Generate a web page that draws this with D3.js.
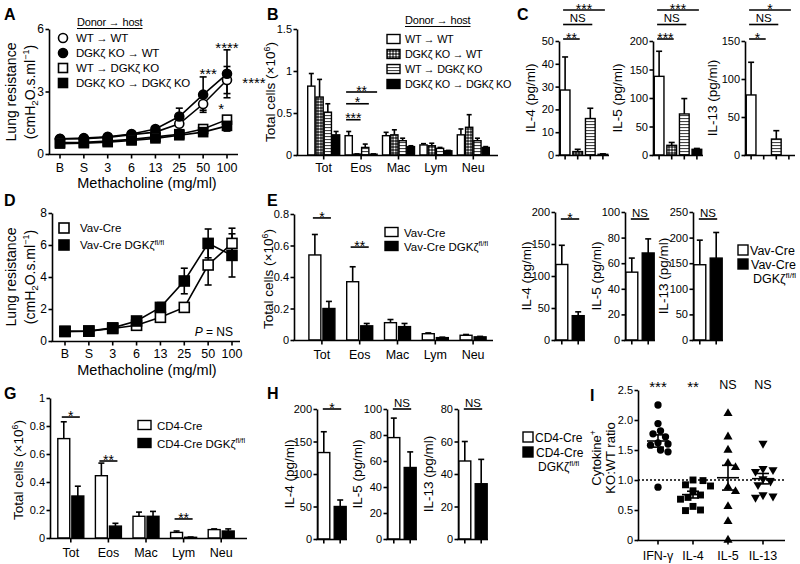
<!DOCTYPE html>
<html><head><meta charset="utf-8">
<script src="https://cdn.jsdelivr.net/npm/d3@7"></script>
<style>body{margin:0;background:#fff}</style>
</head><body>
<script>
// ================= DATA =================
const doses = ["B","S","3","6","13","25","50","100"];
const cellTypes = ["Tot","Eos","Mac","Lym","Neu"];
const donorHost = ["WT \u2192 WT","DGK\u03b6 KO \u2192 WT","WT \u2192 DGK\u03b6 KO","DGK\u03b6 KO \u2192 DGK\u03b6 KO"];

// Panel A: lung resistance (donor -> host)
const aWTtoWT    = [0.72,0.74,0.80,0.93,1.05,1.45,2.40,3.55];
const aWTtoWTErr = [0.03,0.03,0.03,0.04,0.06,0.10,0.30,0.65];
const aKOtoWT    = [0.73,0.76,0.83,0.96,1.20,1.80,2.85,3.85];
const aKOtoWTErr = [0.03,0.03,0.04,0.05,0.08,0.40,0.85,1.15];
const aWTtoKO    = [0.55,0.56,0.62,0.70,0.82,0.95,1.20,1.65];
const aWTtoKOErr = [0.02,0.02,0.03,0.03,0.04,0.05,0.10,0.15];
const aKOtoKO    = [0.50,0.52,0.57,0.65,0.75,0.90,1.05,1.35];
const aKOtoKOErr = [0.02,0.02,0.03,0.03,0.04,0.05,0.08,0.25];
const aStars = [
  {label:"***",  dose:"50",  at:4.0,  side:false},
  {label:"****", dose:"100", at:5.25, side:false},
  {label:"****", dose:"100", at:3.55, side:true},
  {label:"*",    dose:"50",  at:2.3,  side:true}
];

// Panel B: BAL cells (x10^6)
const bWTtoWT    = [0.82,0.23,0.23,0.12,0.24];
const bWTtoWTErr = [0.15,0.05,0.04,0.015,0.07];
const bKOtoWT    = [0.69,0.01,0.24,0.11,0.33];
const bKOtoWTErr = [0.21,0.003,0.06,0.03,0.15];
const bWTtoKO    = [0.51,0.09,0.17,0.08,0.17];
const bWTtoKOErr = [0.10,0.04,0.03,0.01,0.03];
const bKOtoKO    = [0.24,0.01,0.10,0.05,0.09];
const bKOtoKOErr = [0.04,0.003,0.01,0.005,0.01];
const bSig = [
  {group:"Eos", a:0, b:1, label:"***", at:0.42},
  {group:"Eos", a:0, b:2, label:"*",   at:0.61},
  {group:"Eos", a:0, b:3, label:"**",  at:0.75}
];

// Panel C: cytokines (pg/ml), 4 groups
const cIL4 = [28.5,1.5,16,0.3];   const cIL4Err = [14.5,1,4.5,0.2];
const cIL5 = [138,17,72,10];      const cIL5Err = [44,5,27,1.5];
const cIL13 = [79,0,21,0];        const cIL13Err = [43,0,11,0];
const cIL4Sig = ["**","NS","***"];
const cIL5Sig = ["***","NS","***"];
const cIL13Sig = ["*","NS","*"];

// Panel D: lung resistance Vav-Cre
const vavLabels = ["Vav-Cre","Vav-Cre DGK\u03b6"];
const dVav      = [0.60,0.62,0.78,0.98,1.48,2.10,4.75,6.10];
const dVavErr   = [0.05,0.05,0.06,0.08,0.15,0.20,1.25,0.95];
const dVavKO    = [0.60,0.62,0.82,1.25,2.10,3.75,6.10,5.35];
const dVavKOErr = [0.05,0.05,0.08,0.10,0.30,0.80,0.90,1.35];

// Panel E: BAL cells Vav-Cre
const eVav      = [0.54,0.37,0.11,0.04,0.03];
const eVavErr   = [0.13,0.095,0.02,0.005,0.005];
const eVavKO    = [0.20,0.09,0.085,0.015,0.02];
const eVavKOErr = [0.045,0.015,0.02,0.003,0.003];
const eSig = [{group:"Tot", label:"*", at:0.775},{group:"Eos", label:"**", at:0.59}];

// Panel F: cytokines Vav-Cre
const fIL4 = [118,38];  const fIL4Err = [30,6];
const fIL5 = [53,68];   const fIL5Err = [11,11];
const fIL13 = [147,160];const fIL13Err = [48,50];
const fSig = ["*","NS","NS"];

// Panel G: BAL cells CD4-Cre
const cd4Labels = ["CD4-Cre","CD4-Cre DGK\u03b6"];
const gCD4      = [0.71,0.445,0.155,0.04,0.06];
const gCD4Err   = [0.12,0.09,0.03,0.01,0.005];
const gCD4KO    = [0.30,0.085,0.155,0.005,0.05];
const gCD4KOErr = [0.07,0.02,0.035,0.002,0.015];
const gSig = [{group:"Tot",label:"*",at:0.864},{group:"Eos",label:"**",at:0.55},{group:"Lym",label:"**",at:0.136}];

// Panel H: cytokines CD4-Cre
const hIL4 = [133,50]; const hIL4Err = [32,10];
const hIL5 = [78,55];  const hIL5Err = [15,12];
const hIL13 = [48,34]; const hIL13Err = [12,15];
const hSig = ["*","NS","NS"];

// Panel I: cytokine+ KO:WT ratio
const iCats = ["IFN-\u03b3","IL-4","IL-5","IL-13"];
const iIFNg = [2.25,1.94,1.82,1.77,1.72,1.62,1.60,1.58,1.50,1.47,0.88];
const iIL4  = [1.00,0.99,0.92,0.90,0.82,0.75,0.71,0.68,0.56,0.50,0.49];
const iIL5  = [2.11,1.72,1.50,1.28,1.21,0.88,0.81,0.56,0.31,0.00];
const iIL13 = [1.61,1.19,1.17,1.14,1.02,0.98,0.92,0.75,0.73,0.71];
const iSig  = ["***","**","NS","NS"];

// ================= DRAWING =================
const FONT = "'Liberation Sans', Arial, Helvetica, sans-serif";
const TICK_FS = 11;
const TITLE_FS = 13.5;
const svg = d3.select("body").append("svg").attr("width",800).attr("height",564)
  .style("font-family",FONT);
svg.append("rect").attr("width",800).attr("height",564).attr("fill","#fff");
const defs = svg.append("defs");
const pc = defs.append("pattern").attr("id","checker").attr("patternUnits","userSpaceOnUse").attr("width",3).attr("height",3);
pc.append("rect").attr("width",3).attr("height",3).attr("fill","#222");
pc.append("circle").attr("cx",1.5).attr("cy",1.5).attr("r",1.05).attr("fill","#fff");
const ps = defs.append("pattern").attr("id","stripes").attr("patternUnits","userSpaceOnUse").attr("width",4).attr("height",3);
ps.append("rect").attr("width",4).attr("height",3).attr("fill","#fff");
ps.append("rect").attr("y",1).attr("width",4).attr("height",1.1).attr("fill","#444");
const fills4 = ["#fff","url(#checker)","url(#stripes)","#000"];
const fills2 = ["#fff","#000"];
const SW = 1.6;

function rich(sel, parts, fs){
  let shift = 0;
  parts.forEach(p=>{
    const t = (typeof p === "string") ? {t:p} : p;
    let target = 0, size = fs;
    if (t.sup){ target = -fs*0.38; size = fs*0.65; }
    if (t.sub){ target = fs*0.22; size = fs*0.7; }
    sel.append("tspan").attr("dy", target-shift).attr("font-size", size).text(t.t);
    shift = target;
  });
}
function txt(x, y, parts, o={}){
  const fs = o.fs || 12;
  const t = svg.append("text").attr("font-size",fs).attr("fill","#000")
    .attr("text-anchor",o.anchor||"start");
  if (o.bold) t.attr("font-weight","bold");
  if (o.ls) t.attr("letter-spacing",o.ls);
  if (o.rot) t.attr("transform",`translate(${x},${y}) rotate(-90)`);
  else t.attr("x",x).attr("y",y);
  if (typeof parts === "string") t.text(parts); else rich(t, parts, fs);
  return t;
}
function line(x1,y1,x2,y2,o={}){
  const l = svg.append("line").attr("x1",x1).attr("y1",y1).attr("x2",x2).attr("y2",y2)
    .attr("stroke","#000").attr("stroke-width",o.w||SW);
  if (o.dash) l.attr("stroke-dasharray",o.dash);
  return l;
}
function yAxis(y, x, ticks, fmt, fs=TICK_FS){
  const g = svg.append("g").attr("transform",`translate(${x},0)`)
    .call(d3.axisLeft(y).tickValues(ticks).tickFormat(fmt||(d=>d)).tickSize(3.5).tickSizeOuter(0).tickPadding(1.5));
  g.attr("font-family",FONT).attr("font-size",fs);
  g.select(".domain").attr("stroke","#000").attr("stroke-width",SW);
  g.selectAll(".tick line").attr("stroke","#000").attr("stroke-width",SW);
  g.selectAll(".tick text").attr("fill","#000");
}
function xAxis(x0, x1, y0, ticks, labels, ly, fs=12.5){
  line(x0-0.8, y0, x1, y0);
  ticks.forEach((t,i)=>{
    line(t, y0, t, y0+4);
    if (labels) txt(t, ly, labels[i], {fs, anchor:"middle"});
  });
}
function marker(shape, cx, cy, size, fill){
  if (shape === "circle")
    svg.append("circle").attr("cx",cx).attr("cy",cy).attr("r",size/2).attr("fill",fill).attr("stroke","#000").attr("stroke-width",SW);
  else
    svg.append("rect").attr("x",cx-size/2).attr("y",cy-size/2).attr("width",size).attr("height",size).attr("fill",fill).attr("stroke","#000").attr("stroke-width",SW);
}
function errBar(cx, y1, y2, cap=6){
  line(cx, y1, cx, y2);
  line(cx-cap/2, y2, cx+cap/2, y2);
}
function sig(x1, x2, ly, label){
  line(x1, ly, x2, ly);
  const star = label.indexOf("*") >= 0;
  txt((x1+x2)/2, star ? ly+3.6 : ly-2.5, label, {fs: star?14:11.5, anchor:"middle"});
}
function panelLabel(x, y, s){ txt(x, y, s, {fs:16, bold:true}); }

function lineChart(x, y, series, msize){
  series.forEach(s=>{
    s.v.forEach((v,i)=>{
      const cx = x(doses[i]);
      line(cx, y(v-s.e[i]), cx, y(v+s.e[i]));
      line(cx-3.5, y(v+s.e[i]), cx+3.5, y(v+s.e[i]));
      line(cx-3.5, y(v-s.e[i]), cx+3.5, y(v-s.e[i]));
    });
  });
  series.forEach(s=>{
    svg.append("path").datum(s.v)
      .attr("d", d3.line().x((d,i)=>x(doses[i])).y(d=>y(d)))
      .attr("fill","none").attr("stroke","#000").attr("stroke-width",SW);
  });
  series.forEach(s=>{
    s.v.forEach((v,i)=> marker(s.shape, x(doses[i]), y(v), msize, s.fill));
  });
}
const lungTitle1 = "Lung resistance";
const lungTitle2 = ["(cmH",{t:"2",sub:true},"O.s.ml",{t:"\u22121",sup:true},")"];
const totalTitle = ["Total cells (\u00d710",{t:"6",sup:true},")"];

// ---------- Panel A ----------
(function(){
  const x = d3.scalePoint().domain(doses).range([60,227]);
  const y = d3.scaleLinear().domain([0,6]).range([154,29]);
  const series = [
    {v:aWTtoWT, e:aWTtoWTErr, shape:"circle", fill:"#fff"},
    {v:aKOtoWT, e:aKOtoWTErr, shape:"circle", fill:"#000"},
    {v:aWTtoKO, e:aWTtoKOErr, shape:"square", fill:"#fff"},
    {v:aKOtoKO, e:aKOtoKOErr, shape:"square", fill:"#000"}
  ];
  lineChart(x, y, series, 9);
  yAxis(y, 49, [0,3,6], null, 12);
  xAxis(49, 238, y(0)+0.5, doses.map(d=>x(d)), doses, 172);
  txt(147, 188, "Methacholine (mg/ml)", {fs:14.5, anchor:"middle"});
  txt(16, 92, lungTitle1, {fs:14, anchor:"middle", rot:true});
  txt(34.5, 92, lungTitle2, {fs:14, anchor:"middle", rot:true});
  aStars.forEach(s=>{
    const cx = s.side ? x(s.dose) + (s.label.length>2 ? 27 : 18) : x(s.dose) + (s.dose==="50"?5:0);
    txt(cx, y(s.at)+8, s.label, {fs:15, anchor:"middle"});
  });
  // legend
  const hd = txt(77, 26, "Donor \u2192 host", {fs:11, ls:-0.2});
  const w = hd.node().getComputedTextLength();
  line(77, 28.5, 77+w, 28.5, {w:1});
  series.forEach((s,i)=>{
    marker(s.shape, 63, 38+i*15, 9, s.fill);
    txt(76, 42+i*15, donorHost[i], {fs:11.5, ls:-0.2});
  });
  panelLabel(4, 20, "A");
})();

// ---------- Panel B ----------
(function(){
  const x = d3.scaleBand().domain(cellTypes).range([305,492]);
  const sub = d3.scaleBand().domain([0,1,2,3]).range([-16,16]).paddingInner(0.125);
  const y = d3.scaleLinear().domain([0,1.5]).range([155,29]);
  const vals = [bWTtoWT,bKOtoWT,bWTtoKO,bKOtoKO];
  const errs = [bWTtoWTErr,bKOtoWTErr,bWTtoKOErr,bKOtoKOErr];
  const cx = c => x(c) + x.bandwidth()/2;
  vals.forEach((vs,k)=>{
    vs.forEach((v,i)=>{
      const bx = cx(cellTypes[i]) + sub(k);
      errBar(bx+sub.bandwidth()/2, y(v), y(v+errs[k][i]), 5);
      svg.append("rect").attr("x",bx).attr("y",y(v)).attr("width",sub.bandwidth()).attr("height",y(0)-y(v))
        .attr("fill",fills4[k]).attr("stroke","#000").attr("stroke-width",1.4);
    });
  });
  yAxis(y, 297, [0,0.5,1,1.5]);
  xAxis(297, 498, y(0)+0.5, cellTypes.map(cx), cellTypes, 172);
  txt(275, 92, totalTitle, {fs:TITLE_FS, anchor:"middle", rot:true});
  bSig.forEach(s=>{
    const c = cx(s.group);
    sig(c+sub(s.a)+1, c+sub(s.b)+sub.bandwidth(), y(s.at), s.label);
  });
  const hd = txt(405, 24, "Donor \u2192 host", {fs:11, ls:-0.2});
  const w = hd.node().getComputedTextLength();
  line(405, 26.5, 405+w, 26.5, {w:1});
  donorHost.forEach((n,i)=>{
    svg.append("rect").attr("x",387).attr("y",34.5+i*15).attr("width",13).attr("height",9)
      .attr("fill",fills4[i]).attr("stroke","#000").attr("stroke-width",1.4);
    txt(405, 43+i*15, n, {fs:10.8, ls:-0.25});
  });
  panelLabel(267, 20, "B");
})();

// ---------- cytokine sub-panels ----------
function cytoPanel(o){
  const y = d3.scaleLinear().domain([0,o.max]).range([o.y0,o.y1]);
  const n = o.vals.length;
  const x = d3.scaleBand().domain(d3.range(n)).range([o.ax, o.ax + o.width]).paddingInner(o.pin).paddingOuter(o.pout);
  const cx = i => x(i) + x.bandwidth()/2;
  o.vals.forEach((v,i)=>{
    if (o.errs[i] > 0) errBar(cx(i), y(v), y(v+o.errs[i]), 6);
    svg.append("rect").attr("x",x(i)).attr("y",y(v)).attr("width",x.bandwidth()).attr("height",Math.max(0,y(0)-y(v)))
      .attr("fill",o.fills[i]).attr("stroke","#000").attr("stroke-width",1.4);
  });
  yAxis(y, o.ax, d3.range(0, o.max+1e-9, o.step));
  xAxis(o.ax, o.ax + o.width, y(0)+0.5, d3.range(n).map(cx), null, 0);
  txt(o.tx, (o.y0+o.y1)/2, o.title, {fs:TITLE_FS, anchor:"middle", rot:true});
  return {y, cx};
}

// ---------- Panel C ----------
(function(){
  const cfg = [
    {vals:cIL4, errs:cIL4Err, max:50, step:10, ax:559, title:"IL-4 (pg/ml)", tx:535, sig:cIL4Sig},
    {vals:cIL5, errs:cIL5Err, max:200, step:50, ax:653, title:"IL-5 (pg/ml)", tx:622, sig:cIL5Sig},
    {vals:cIL13, errs:cIL13Err, max:150, step:50, ax:745, title:"IL-13 (pg/ml)", tx:717, sig:cIL13Sig}
  ];
  cfg.forEach(c=>{
    const r = cytoPanel(Object.assign({y0:155, y1:41, width:50, pin:0.23, pout:0.1, fills:fills4}, c));
    c.sig.forEach((s,k)=>{
      sig(r.cx(0)-2, r.cx(k+1)+2, r.y(c.max) - 2 - k*14.5, s);
    });
  });
  panelLabel(517, 20, "C");
})();

// ---------- Panel D ----------
(function(){
  const x = d3.scalePoint().domain(doses).range([65,232]);
  const y = d3.scaleLinear().domain([0,8]).range([341,213]);
  const series = [
    {v:dVav, e:dVavErr, shape:"square", fill:"#fff"},
    {v:dVavKO, e:dVavKOErr, shape:"square", fill:"#000"}
  ];
  lineChart(x, y, series, 10);
  yAxis(y, 52, [0,2,4,6,8], null, 12);
  xAxis(52, 240, y(0)+0.5, doses.map(d=>x(d)), doses, 358);
  txt(147, 375, "Methacholine (mg/ml)", {fs:14.5, anchor:"middle"});
  txt(16, 277, lungTitle1, {fs:14, anchor:"middle", rot:true});
  txt(34.5, 277, lungTitle2, {fs:14, anchor:"middle", rot:true});
  txt(233, 336, [{t:"P"}," = NS"], {fs:12, anchor:"end"}).select("tspan").attr("font-style","italic");
  series.forEach((s,i)=>{
    marker(s.shape, 64, 228+i*17, 10, s.fill);
    txt(80, 232+i*17, i===0 ? vavLabels[0] : [vavLabels[1],{t:"fl/fl",sup:true}], {fs:11.5});
  });
  panelLabel(4, 206, "D");
})();

// ---------- two-group cell panels (E, G) ----------
function cellPanel(o){
  const x = d3.scaleBand().domain(cellTypes).range(o.band);
  const sub = d3.scaleBand().domain([0,1]).range([-13,13]).paddingInner(0.15);
  const y = d3.scaleLinear().domain([0,o.max]).range([o.y0,o.y1]);
  const cx = c => x(c) + x.bandwidth()/2;
  [o.a, o.b].forEach((vs,k)=>{
    const es = k===0 ? o.ae : o.be;
    vs.forEach((v,i)=>{
      const bx = cx(cellTypes[i]) + sub(k);
      errBar(bx+sub.bandwidth()/2, y(v), y(v+es[i]), 6);
      svg.append("rect").attr("x",bx).attr("y",y(v)).attr("width",sub.bandwidth()).attr("height",y(0)-y(v))
        .attr("fill",fills2[k]).attr("stroke","#000").attr("stroke-width",1.4);
    });
  });
  yAxis(y, o.ax, o.ticks, o.fmt);
  xAxis(o.ax, o.axEnd, y(0)+0.5, cellTypes.map(cx), cellTypes, o.ly);
  txt(o.tx, (o.y0+o.y1)/2 + 2, totalTitle, {fs:TITLE_FS, anchor:"middle", rot:true});
  o.sig.forEach(s=>{
    const c = cx(s.group);
    sig(c+sub(0)+sub.bandwidth()/2-2, c+sub(1)+sub.bandwidth()/2+2, y(s.at), s.label);
  });
  o.labels.forEach((n,i)=>{
    svg.append("rect").attr("x",o.lgx).attr("y",o.lgy+i*o.lgdy-4.5).attr("width",13).attr("height",9)
      .attr("fill",fills2[i]).attr("stroke","#000").attr("stroke-width",1.4);
    txt(o.lgx+19, o.lgy+i*o.lgdy+4.5, i===0 ? n : [n,{t:"fl/fl",sup:true}], {fs:11.5});
  });
}

// ---------- Panel E ----------
cellPanel({band:[303,492], max:0.8, y0:340, y1:214, ax:294, axEnd:493, ticks:[0,0.2,0.4,0.6,0.8],
  fmt:d=>d, a:eVav, ae:eVavErr, b:eVavKO, be:eVavKOErr, ly:359, tx:273, sig:eSig,
  labels:vavLabels, lgx:385, lgy:232, lgdy:14});
panelLabel(267, 206, "E");

// ---------- Panel F ----------
(function(){
  const cfg = [
    {vals:fIL4, errs:fIL4Err, max:200, step:50, ax:555, title:"IL-4 (pg/ml)", tx:531},
    {vals:fIL5, errs:fIL5Err, max:100, step:20, ax:625, title:"IL-5 (pg/ml)", tx:601},
    {vals:fIL13, errs:fIL13Err, max:250, step:50, ax:693, title:"IL-13 (pg/ml)", tx:668}
  ];
  cfg.forEach((c,k)=>{
    const r = cytoPanel(Object.assign({y0:340, y1:212, width:30, pin:0.27, pout:0.05, fills:fills2}, c));
    sig(r.cx(0)-1, r.cx(1)+1, r.y(c.max)+7, fSig[k]);
  });
  vavLabels.forEach((n,i)=>{
    svg.append("rect").attr("x",738).attr("y",245+i*14).attr("width",10).attr("height",10)
      .attr("fill",fills2[i]).attr("stroke","#000").attr("stroke-width",1.4);
  });
  txt(750, 255, vavLabels[0], {fs:12.5});
  txt(751, 269, "Vav-Cre", {fs:12.5});
  txt(753, 283, ["DGK\u03b6",{t:"fl/fl",sup:true}], {fs:12.5});
})();

// ---------- Panel G ----------
cellPanel({band:[52,240], max:1, y0:538, y1:398, ax:50, axEnd:247, ticks:[0,0.2,0.4,0.6,0.8,1],
  fmt:d=>d, a:gCD4, ae:gCD4Err, b:gCD4KO, be:gCD4KOErr, ly:557, tx:23, sig:gSig,
  labels:cd4Labels, lgx:138, lgy:425, lgdy:18});
panelLabel(4, 399, "G");

// ---------- Panel H ----------
(function(){
  const cfg = [
    {vals:hIL4, errs:hIL4Err, max:200, step:50, ax:317, title:"IL-4 (pg/ml)", tx:294},
    {vals:hIL5, errs:hIL5Err, max:100, step:20, ax:387, title:"IL-5 (pg/ml)", tx:362},
    {vals:hIL13, errs:hIL13Err, max:80, step:20, ax:458, title:"IL-13 (pg/ml)", tx:433}
  ];
  cfg.forEach((c,k)=>{
    const r = cytoPanel(Object.assign({y0:539, y1:409, width:30, pin:0.27, pout:0.05, fills:fills2}, c));
    sig(r.cx(0)-1, r.cx(1)+1, r.y(c.max), hSig[k]);
  });
  cd4Labels.forEach((n,i)=>{
    svg.append("rect").attr("x",523).attr("y",432+i*15).attr("width",10).attr("height",10)
      .attr("fill",fills2[i]).attr("stroke","#000").attr("stroke-width",1.4);
  });
  txt(535, 442, cd4Labels[0], {fs:12});
  txt(536, 457, "CD4-Cre", {fs:12});
  txt(538, 471, ["DGK\u03b6",{t:"fl/fl",sup:true}], {fs:12});
  panelLabel(267, 399, "H");
})();

// ---------- Panel I ----------
(function(){
  const x = d3.scalePoint().domain(iCats).range([658,763]);
  const y = d3.scaleLinear().domain([0,2.5]).range([540,390]);
  const groups = [iIFNg, iIL4, iIL5, iIL13];
  const shapes = [d3.symbolCircle, d3.symbolSquare, d3.symbolTriangle, d3.symbolTriangle];
  line(638, y(1), 785, y(1), {w:1.5, dash:"2,2"});
  groups.forEach((vals,gi)=>{
    const c = x(iCats[gi]);
    const order = vals.map((v,i)=>i).sort((a,b)=>vals[b]-vals[a]);
    const placed = [];
    const R = 7.6;
    order.forEach(i=>{
      const py = y(vals[i]);
      let off = 0;
      for (let k=0;k<60;k++){
        const cand = k===0 ? 0 : (k%2 ? 1 : -1) * Math.ceil(k/2) * 2.5;
        if (placed.every(p => Math.hypot(p.x-cand, p.y-py) >= R)) { off = cand; break; }
      }
      placed.push({x:off, y:py});
      const sym = d3.symbol().type(shapes[gi]).size(gi===1 ? 48 : (gi===0 ? 42 : 36));
      svg.append("path").attr("d", sym())
        .attr("transform", `translate(${c+off},${py})${gi===3 ? " rotate(180)" : ""}`)
        .attr("fill","#000");
    });
    const m = d3.mean(vals), se = d3.deviation(vals)/Math.sqrt(vals.length);
    line(c-11, y(m), c+11, y(m));
    line(c, y(m-se), c, y(m+se));
    line(c-6, y(m-se), c+6, y(m-se));
    line(c-6, y(m+se), c+6, y(m+se));
    const star = iSig[gi].indexOf("*")>=0;
    txt(c, star ? 392 : 389, iSig[gi], {fs: star?15:12.5, anchor:"middle"});
  });
  yAxis(y, 638, [0,0.5,1,1.5,2,2.5], d=> d===0 ? "0" : d3.format(".1f")(d));
  xAxis(638, 785, y(0)+0.5, iCats.map(c=>x(c)), iCats, 560);
  txt(601, 458, ["Cytokine",{t:"+",sup:true}], {fs:13, anchor:"middle", rot:true});
  txt(615, 458, "KO:WT ratio", {fs:13, anchor:"middle", rot:true});
  panelLabel(590, 401, "I");
})();
</script>
</body></html>
